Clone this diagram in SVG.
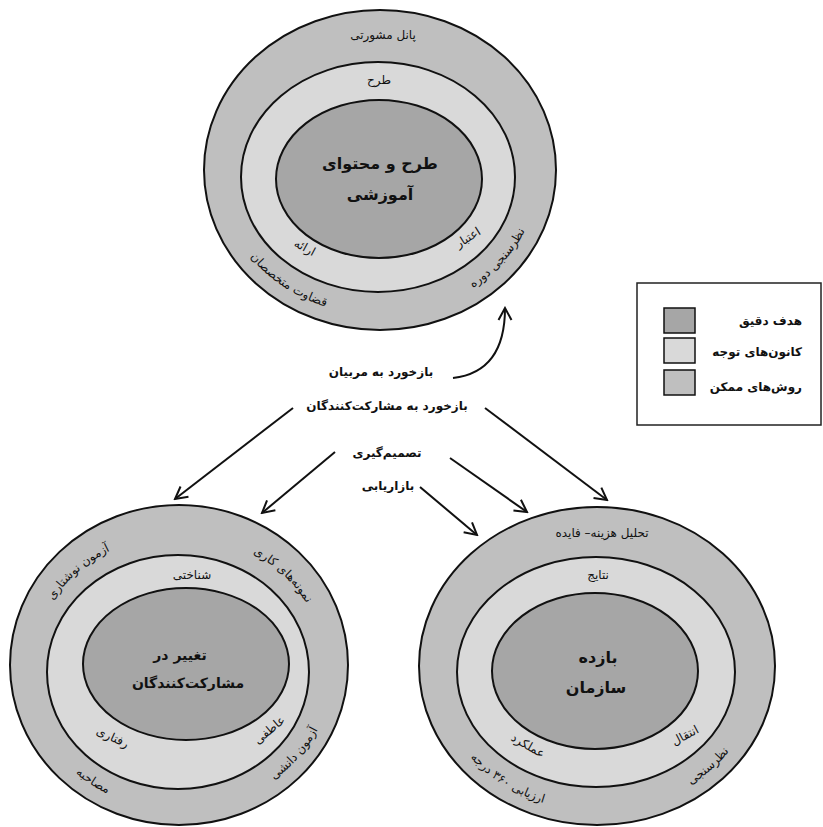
<svg xmlns="http://www.w3.org/2000/svg" width="823" height="827" viewBox="0 0 823 827">
<style>
.outer{fill:#bfbfbf;stroke:#111;stroke-width:2}
.mid{fill:#d9d9d9;stroke:#111;stroke-width:2}
.inner{fill:#a6a6a6;stroke:#111;stroke-width:2}
text{font-family:"DejaVu Sans",sans-serif;fill:#111;text-anchor:middle}
.s{font-size:12px}
.c{font-size:16px;font-weight:bold}
.c2{font-size:14px;font-weight:bold}
.m{font-size:12px;font-weight:bold}
.lg{font-size:12px;font-weight:bold}
.arr{fill:none;stroke:#111;stroke-width:2;marker-end:url(#ah)}
</style>
<defs>
<marker id="ah" markerUnits="userSpaceOnUse" viewBox="0 0 16 16" markerWidth="16" markerHeight="16" refX="14" refY="8" orient="auto">
<path d="M2,1.5 L14,8 L2,14.5" fill="none" stroke="#111" stroke-width="2"/>
</marker>
<path id="tb" d="M219,172 A160,143 0 0 0 539,172"/>
<path id="blt" d="M33,668 A146,133 0 0 1 325,668"/>
<path id="blb" d="M25,668 A154,142 0 0 0 333,668"/>
<path id="brb" d="M435,669 A162,142 0 0 0 759,669"/>
</defs>

<g id="node-top">
<ellipse class="outer" cx="380" cy="170" rx="176" ry="160"/>
<ellipse class="mid" cx="378" cy="177" rx="137" ry="115"/>
<ellipse class="inner" cx="379" cy="179" rx="103" ry="79"/>
<text class="s" x="383" y="39">پانل مشورتی</text>
<text class="s" x="379" y="84">طرح</text>
<text class="c" x="380" y="169">طرح و محتوای</text>
<text class="c" x="380" y="200">آموزشی</text>
<text class="s" transform="translate(303,251) rotate(28)">ارائه</text>
<text class="s" transform="translate(470,241) rotate(-32)">اعتبار</text>
<text class="s"><textPath href="#tb" startOffset="29%">قضاوت متخصصان</textPath></text>
<text class="s"><textPath href="#tb" startOffset="79%">نظرسنجی دوره</textPath></text>
</g>

<g id="node-participants">
<ellipse class="outer" cx="179" cy="665" rx="169" ry="160"/>
<ellipse class="mid" cx="178" cy="672" rx="131" ry="117"/>
<ellipse class="inner" cx="186" cy="664" rx="103" ry="76"/>
<text class="s"><textPath href="#blt" startOffset="25%">آزمون نوشتاری</textPath></text>
<text class="s"><textPath href="#blt" startOffset="76%">نمونه‌های کاری</textPath></text>
<text class="s" x="192" y="579">شناختی</text>
<text class="c2" x="180" y="660">تغییر در</text>
<text class="c2" x="188" y="688">مشارکت‌کنندگان</text>
<text class="s" transform="translate(111,741) rotate(25)">رفتاری</text>
<text class="s" transform="translate(272,733) rotate(-40)">عاطفی</text>
<text class="s"><textPath href="#blb" startOffset="30%">مصاحبه</textPath></text>
<text class="s"><textPath href="#blb" startOffset="79%">آزمون دانشی</textPath></text>
</g>

<g id="node-organization">
<ellipse class="outer" cx="597" cy="666" rx="178" ry="159"/>
<ellipse class="mid" cx="596" cy="672" rx="139" ry="115"/>
<ellipse class="inner" cx="595" cy="671" rx="103" ry="78"/>
<text class="s" x="602" y="537">تحلیل هزینه– فایده</text>
<text class="s" x="598" y="579">نتایج</text>
<text class="c" x="598" y="663">بازده</text>
<text class="c" x="596" y="693">سازمان</text>
<text class="s" transform="translate(526,749) rotate(30)">عملکرد</text>
<text class="s" transform="translate(687,739) rotate(-28)">انتقال</text>
<text class="s"><textPath href="#brb" startOffset="29.5%">ارزیابی ۳۶۰ درجه</textPath></text>
<text class="s"><textPath href="#brb" startOffset="76%">نظرسنجی</textPath></text>
</g>

<g id="connectors">
<path class="arr" d="M453,378 Q505,372 505,308"/>
<path class="arr" d="M293,408 L175,499"/>
<path class="arr" d="M335,452 L262,513"/>
<path class="arr" d="M485,408 L607,500"/>
<path class="arr" d="M450,458 L527,512"/>
<path class="arr" d="M420,487 L477,535"/>
</g>

<g id="labels">
<text class="m" x="381" y="376">بازخورد به مربیان</text>
<text class="m" x="387" y="410">بازخورد به مشارکت‌کنندگان</text>
<text class="m" x="387" y="457">تصمیم‌گیری</text>
<text class="m" x="388" y="490">بازاریابی</text>
</g>

<g id="legend">
<rect x="637" y="283" width="184" height="142" fill="#fff" stroke="#222" stroke-width="1.5"/>
<rect x="664" y="308" width="31" height="25" fill="#a6a6a6" stroke="#111" stroke-width="1.5"/>
<rect x="664" y="338" width="31" height="25" fill="#d9d9d9" stroke="#111" stroke-width="1.5"/>
<rect x="664" y="370" width="31" height="25" fill="#bfbfbf" stroke="#111" stroke-width="1.5"/>
<text class="lg" x="802" y="325" style="text-anchor:end">هدف دقیق</text>
<text class="lg" x="802" y="356" style="text-anchor:end">کانون‌های توجه</text>
<text class="lg" x="802" y="391" style="text-anchor:end">روش‌های ممکن</text>
</g>
</svg>
